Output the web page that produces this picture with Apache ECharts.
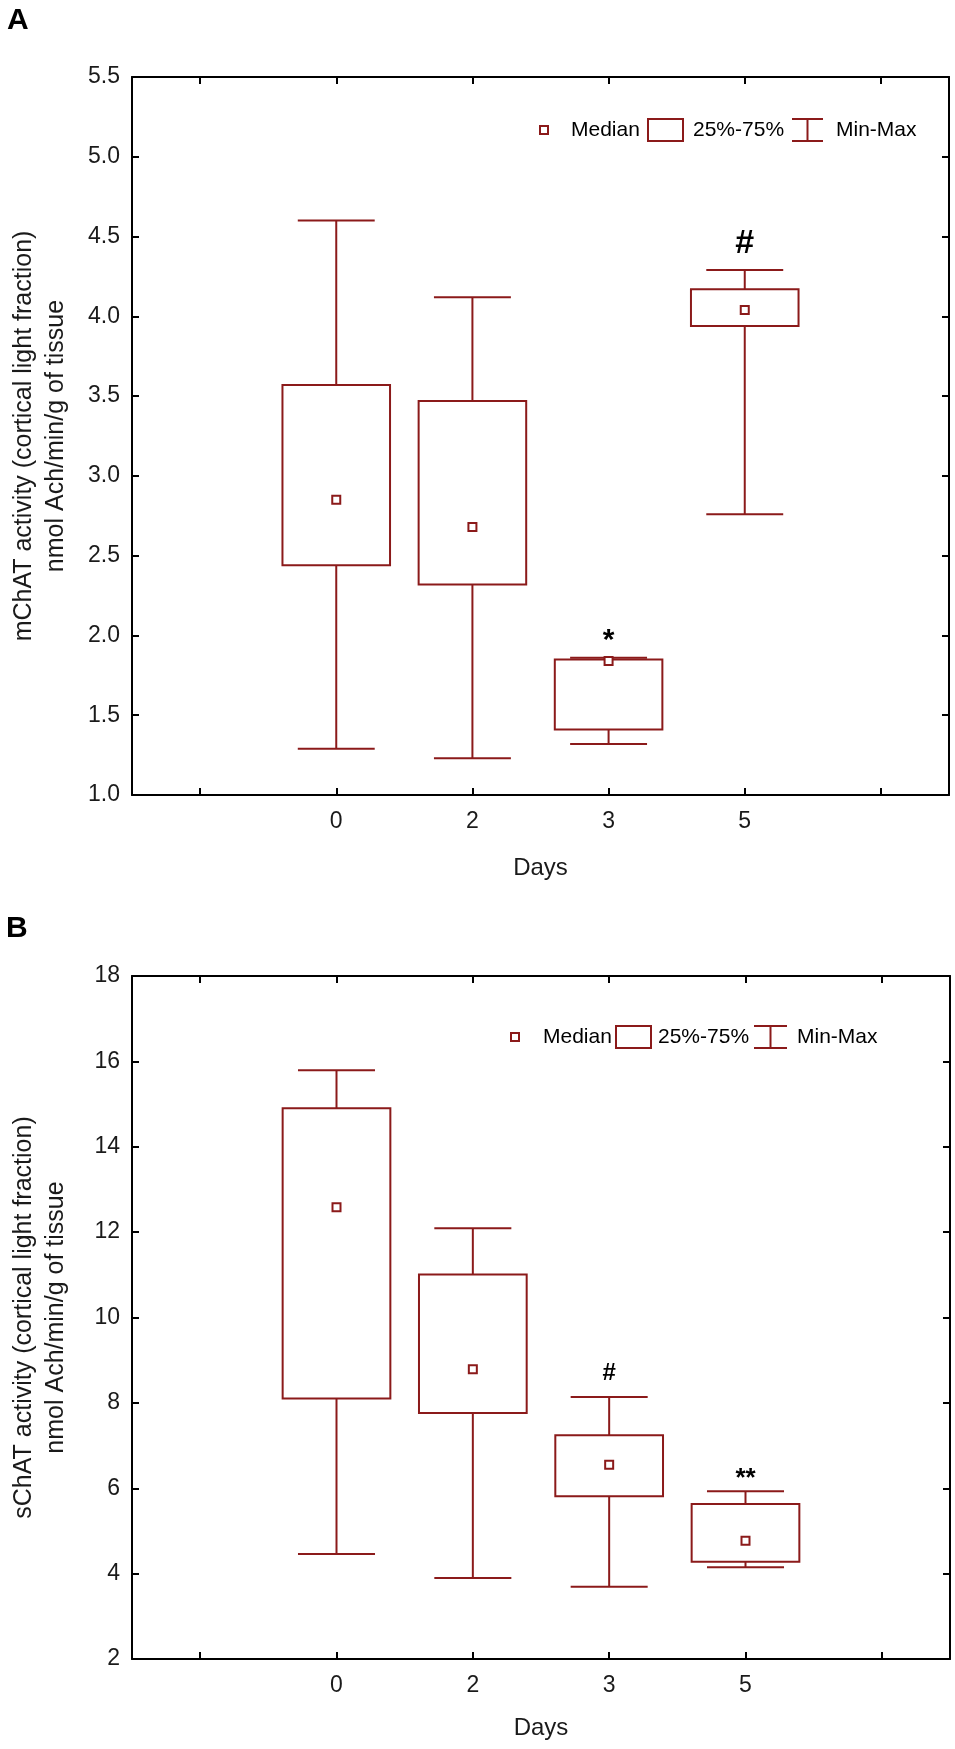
<!DOCTYPE html>
<html>
<head>
<meta charset="utf-8">
<title>ChAT activity</title>
<script src="https://cdn.jsdelivr.net/npm/echarts@6/dist/echarts.min.js"></script>
<style>
html, body { margin: 0; padding: 0; background: #fff; }
#chart { width: 955px; height: 1749px; }
</style>
</head>
<body>
<div id="chart"></div>
<script>
// days on the x axis
var days = ['0', '2', '3', '5'];

// panel A : mChAT
var mMin = [1.29, 1.23, 1.32, 2.76];
var mQ1 = [2.44, 2.32, 1.41, 3.94];
var mMed = [2.85, 2.68, 1.84, 4.04];
var mQ3 = [3.57, 3.47, 1.85, 4.17];
var mMax = [4.60, 4.12, 1.86, 4.29];
var mMarks = ['', '', '*', '#'];

// panel B : sChAT
var sMin = [4.46, 3.90, 3.69, 4.15];
var sQ1 = [8.10, 7.76, 5.81, 4.28];
var sMed = [12.58, 8.79, 6.55, 4.77];
var sQ3 = [14.90, 11.01, 7.24, 5.63];
var sMax = [15.79, 12.09, 8.14, 5.93];
var sMarks = ['', '', '#', '**'];

var RED = '#8b1a1a';
var FONT = '"Liberation Sans", Arial, sans-serif';
var TXT = '#1a1a1a';

// empty slot each side, like the original axis
var cats = [''].concat(days).concat(['']);

function rows(mn, q1, md, q3, mx) {
	var out = [];
	for (var i = 0; i < mn.length; i++) {
		out.push([i + 1, mn[i], q1[i], md[i], q3[i], mx[i]]);
	}
	return out;
}

function boxRenderer(marks, markOff) {
	return function (params, api) {
		var x = api.value(0);
		var pMin = api.coord([x, api.value(1)]);
		var pQ1 = api.coord([x, api.value(2)]);
		var pMed = api.coord([x, api.value(3)]);
		var pQ3 = api.coord([x, api.value(4)]);
		var pMax = api.coord([x, api.value(5)]);
		var band = api.size([1, 0])[0];
		var bw = band * 0.79, cw = band * 0.565;
		var cx = pMin[0];
		var ls = { stroke: RED, lineWidth: 2, fill: null };
		var kids = [
			{ type: 'line', shape: { x1: cx, y1: pMin[1], x2: cx, y2: pQ1[1] }, style: ls },
			{ type: 'line', shape: { x1: cx, y1: pQ3[1], x2: cx, y2: pMax[1] }, style: ls },
			{ type: 'line', shape: { x1: cx - cw / 2, y1: pMin[1], x2: cx + cw / 2, y2: pMin[1] }, style: ls },
			{ type: 'line', shape: { x1: cx - cw / 2, y1: pMax[1], x2: cx + cw / 2, y2: pMax[1] }, style: ls },
			{ type: 'rect', shape: { x: cx - bw / 2, y: pQ3[1], width: bw, height: pQ1[1] - pQ3[1] }, style: ls },
			{ type: 'rect', shape: { x: cx - 4, y: pMed[1] - 4, width: 8, height: 8 }, style: { stroke: RED, lineWidth: 2, fill: '#fff' } }
		];
		var m = marks[params.dataIndex];
		if (m) {
			var o = markOff[params.dataIndex];
			kids.push({
				type: 'text',
				style: {
					text: m, x: cx, y: pMax[1] - o[0],
					align: 'center', verticalAlign: 'middle',
					font: 'bold ' + o[1] + 'px ' + FONT, fill: '#000'
				}
			});
		}
		return { type: 'group', children: kids };
	};
}

var LINE = { show: true, lineStyle: { color: '#000', width: 2 } };

function xAxes(grid, gap) {
	var tick = { show: true, inside: true, alignWithLabel: true, interval: 0, length: 7, lineStyle: { color: '#000', width: 2 } };
	return [{
		type: 'category', gridIndex: grid, data: cats, position: 'bottom',
		axisLine: LINE, axisTick: tick,
		axisLabel: { interval: 0, margin: 15, fontSize: 23, fontFamily: FONT, color: TXT },
		splitLine: { show: false },
		name: 'Days', nameLocation: 'middle', nameGap: gap,
		nameTextStyle: { fontSize: 24, fontFamily: FONT, color: TXT }
	}, {
		type: 'category', gridIndex: grid, data: cats, position: 'top',
		axisLine: LINE, axisTick: tick,
		axisLabel: { show: false },
		splitLine: { show: false }
	}];
}

function yAxes(grid, min, max, step, dec, title) {
	var tick = { show: true, inside: true, length: 7, lineStyle: { color: '#000', width: 2 } };
	return [{
		type: 'value', gridIndex: grid, min: min, max: max, interval: step, position: 'left',
		axisLine: LINE, axisTick: tick,
		axisLabel: {
			margin: 12, fontSize: 23, fontFamily: FONT, color: TXT,
			formatter: function (v) { return v.toFixed(dec); }
		},
		splitLine: { show: false },
		name: title, nameLocation: 'middle', nameRotate: 90, nameGap: 60,
		nameTextStyle: { fontSize: 25, lineHeight: 32, fontFamily: FONT, color: TXT, align: 'center' }
	}, {
		type: 'value', gridIndex: grid, min: min, max: max, interval: step, position: 'right',
		axisLine: LINE, axisTick: tick,
		axisLabel: { show: false },
		splitLine: { show: false }
	}];
}

function legend(y, xs) {
	// xs: median marker, text1, box left, box right, text2, bar left, bar right, text3
	var st = { stroke: RED, lineWidth: 2, fill: null };
	var ts = function (t, x) {
		return { type: 'text', x: x, y: y, style: { text: t, font: '21px ' + FONT, fill: '#000', verticalAlign: 'middle' } };
	};
	var bm = (xs[5] + xs[6]) / 2;
	return [
		{ type: 'rect', shape: { x: xs[0] - 4, y: y - 4, width: 8, height: 8 }, style: st },
		ts('Median', xs[1]),
		{ type: 'rect', shape: { x: xs[2], y: y - 11, width: xs[3] - xs[2], height: 22 }, style: st },
		ts('25%-75%', xs[4]),
		{ type: 'line', shape: { x1: xs[5], y1: y - 11, x2: xs[6], y2: y - 11 }, style: st },
		{ type: 'line', shape: { x1: xs[5], y1: y + 11, x2: xs[6], y2: y + 11 }, style: st },
		{ type: 'line', shape: { x1: bm, y1: y - 11, x2: bm, y2: y + 11 }, style: st },
		ts('Min-Max', xs[7])
	];
}

var chart = echarts.init(document.getElementById('chart'), null, { renderer: 'canvas' });

var option = {
	backgroundColor: '#fff',
	animation: false,
	grid: [
		{ left: 124, right: 6, top: 77, height: 718 },
		{ left: 120, right: 5, top: 976, height: 683 }
	],
	xAxis: xAxes(0, 61).concat(xAxes(1, 57)),
	yAxis: yAxes(0, 1, 5.5, 0.5, 1, 'mChAT activity (cortical light fraction)\nnmol Ach/min/g of tissue')
		.concat(yAxes(1, 2, 18, 2, 0, 'sChAT activity (cortical light fraction)\nnmol Ach/min/g of tissue')),
	series: [{
		type: 'custom', xAxisIndex: 0, yAxisIndex: 0,
		renderItem: boxRenderer(mMarks, [[0, 0], [0, 0], [17, 30], [26, 34]]),
		data: rows(mMin, mQ1, mMed, mQ3, mMax),
		encode: { x: 0, y: [1, 2, 3, 4, 5] },
		clip: false
	}, {
		type: 'custom', xAxisIndex: 2, yAxisIndex: 2,
		renderItem: boxRenderer(sMarks, [[0, 0], [0, 0], [24, 24], [12, 26]]),
		data: rows(sMin, sQ1, sMed, sQ3, sMax),
		encode: { x: 0, y: [1, 2, 3, 4, 5] },
		clip: false
	}],
	graphic: [
		{ type: 'text', x: 7, y: 6, style: { text: 'A', font: 'bold 30px ' + FONT, fill: '#000' } },
		{ type: 'text', x: 6, y: 914, style: { text: 'B', font: 'bold 30px ' + FONT, fill: '#000' } }
	].concat(legend(130, [544, 571, 648, 683, 693, 792, 823, 836]))
	 .concat(legend(1037, [515, 543, 616, 651, 658, 754, 787, 797]))
};

chart.setOption(option);
</script>
</body>
</html>
